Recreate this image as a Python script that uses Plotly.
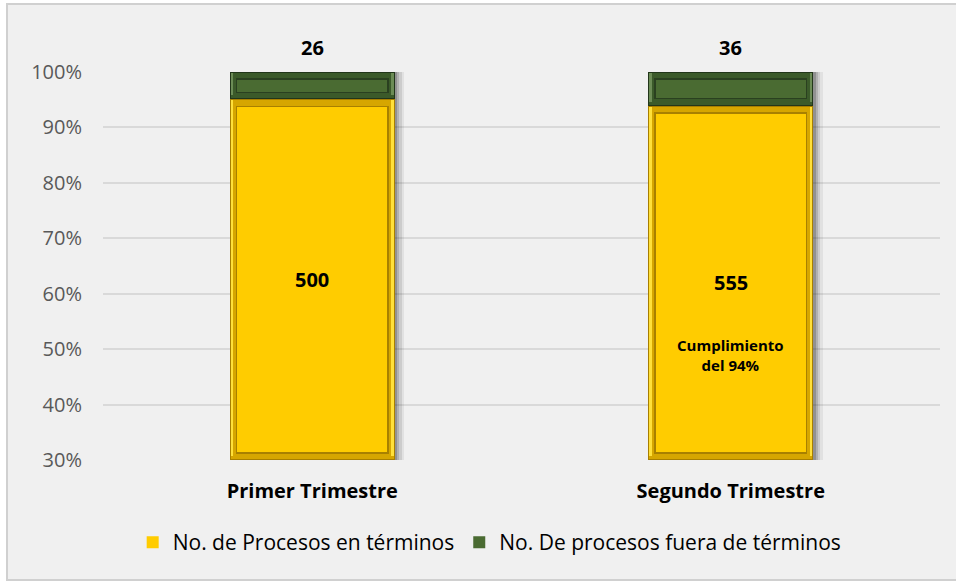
import plotly.graph_objects as go

# Quarterly process counts
categories = ["Primer Trimestre", "Segundo Trimestre"]
en_terminos = [500, 555]
fuera_terminos = [26, 36]
series_names = ["No. de Procesos en términos", "No. De procesos fuera de términos"]
y_ticks = [30, 40, 50, 60, 70, 80, 90, 100]

Y_MIN, Y_MAX = 30, 100
totals = [a + b for a, b in zip(en_terminos, fuera_terminos)]
pct_in = [a / t * 100 for a, t in zip(en_terminos, totals)]

FONT = "Open Sans"
W = 0.395          # bar width (category units)
DX = 0.015         # bevel inset, horizontal
DY = 1.15          # bevel inset, vertical (%)
PX = 1 / 418.5     # one pixel, horizontal
PY = 70 / 388      # one pixel, vertical (%)

fig = go.Figure()

# soft drop shadow on the right of each column
for dx, op in [(0.022, 0.06), (0.016, 0.09), (0.010, 0.13), (0.005, 0.18)]:
    fig.add_trace(go.Bar(
        x=categories, y=[Y_MAX - Y_MIN] * 2, base=[Y_MIN] * 2,
        width=W, offset=-W / 2 + dx,
        marker=dict(color=f"rgba(0,0,0,{op})", line_width=0),
        showlegend=False, hoverinfo="skip"))


def layer(base, top, ix, iy, color, **kw):
    fig.add_trace(go.Bar(
        x=categories, y=[t - b - 2 * iy for b, t in zip(base, top)],
        base=[b + iy for b in base],
        width=W - 2 * ix, offset=-W / 2 + ix,
        marker=dict(color=color, line_width=0),
        hoverinfo="skip", **kw))


def bevel_bar(base, top, rim, band, light, edge, face, name, rank):
    layer(base, top, 0, 0, rim, showlegend=False, legendgroup=name)
    # bevel band: lighter along the top, darker elsewhere
    layer(base, top, PX, PY, band, showlegend=False, legendgroup=name)
    layer([b + DY * 0.5 for b in base], top, PX, PY, light,
          showlegend=False, legendgroup=name)
    layer([b + DY * 0.5 for b in base], top, DX * 0.55, PY, band,
          showlegend=False, legendgroup=name)
    # shaded edge around the flat face
    layer(base, top, DX, DY, edge, showlegend=False, legendgroup=name)
    layer(base, top, DX + 1.5 * PX, DY + 1.5 * PY, face,
          name=name, showlegend=True, legendgroup=name, legendrank=rank)


bevel_bar([Y_MIN] * 2, pct_in, "#a87f00", "#d6a600", "#ffe03a", "#a88000",
          "#ffcc00", series_names[0], 1)
bevel_bar(pct_in, [Y_MAX] * 2, "#22361a", "#3b5a2a", "#6c8c56", "#2a4020",
          "#4a6b32", series_names[1], 2)

# value labels
for c, v, p in zip(categories, en_terminos, pct_in):
    fig.add_annotation(x=c, y=(Y_MIN + p) / 2, text=f"<b>{v}</b>",
                       showarrow=False, font=dict(family=FONT, size=20, color="#000"))
for c, v in zip(categories, fuera_terminos):
    fig.add_annotation(x=c, y=Y_MAX, yshift=25, text=f"<b>{v}</b>",
                       showarrow=False, font=dict(family=FONT, size=20, color="#000"))
fig.add_annotation(x=categories[1], y=49,
                   text=f"<b>Cumplimiento<br>del {round(pct_in[1])}%</b>",
                   showarrow=False, align="center",
                   font=dict(family=FONT, size=15, color="#000"))

# chart frame
fig.add_shape(type="rect", xref="paper", yref="paper",
              x0=(7 - 103) / 837, x1=1.1, y0=-0.309, y1=(460 - 4) / 388,
              fillcolor="#f0f0f0", line=dict(color="#d0d0d0", width=2),
              layer="below")

fig.update_layout(
    width=956, height=582,
    margin=dict(l=103, r=16, t=72, b=122),
    paper_bgcolor="#ffffff", plot_bgcolor="rgba(0,0,0,0)",
    barmode="overlay", bargap=0,
    showlegend=True,
    legend=dict(orientation="h", x=0.462, xanchor="center", y=-0.16, yanchor="top",
                font=dict(family=FONT, size=21, color="#000"),
                itemwidth=30, bgcolor="rgba(0,0,0,0)"),
    xaxis=dict(type="category", showgrid=False, showline=False, zeroline=False,
               tickfont=dict(family=FONT, size=20, color="#000"),
               tickvals=categories,
               ticktext=[f"<b>{c}</b>" for c in categories],
               ticklabelstandoff=17),
    yaxis=dict(range=[Y_MIN, Y_MAX], tickvals=y_ticks,
               ticktext=[f"{v}%" for v in y_ticks],
               showgrid=True, gridcolor="#d9d9d9", gridwidth=1.5,
               zeroline=False, showline=False,
               tickfont=dict(family=FONT, size=20, color="#595959"),
               ticklabelstandoff=20),
)

fig.write_html("out.html")
